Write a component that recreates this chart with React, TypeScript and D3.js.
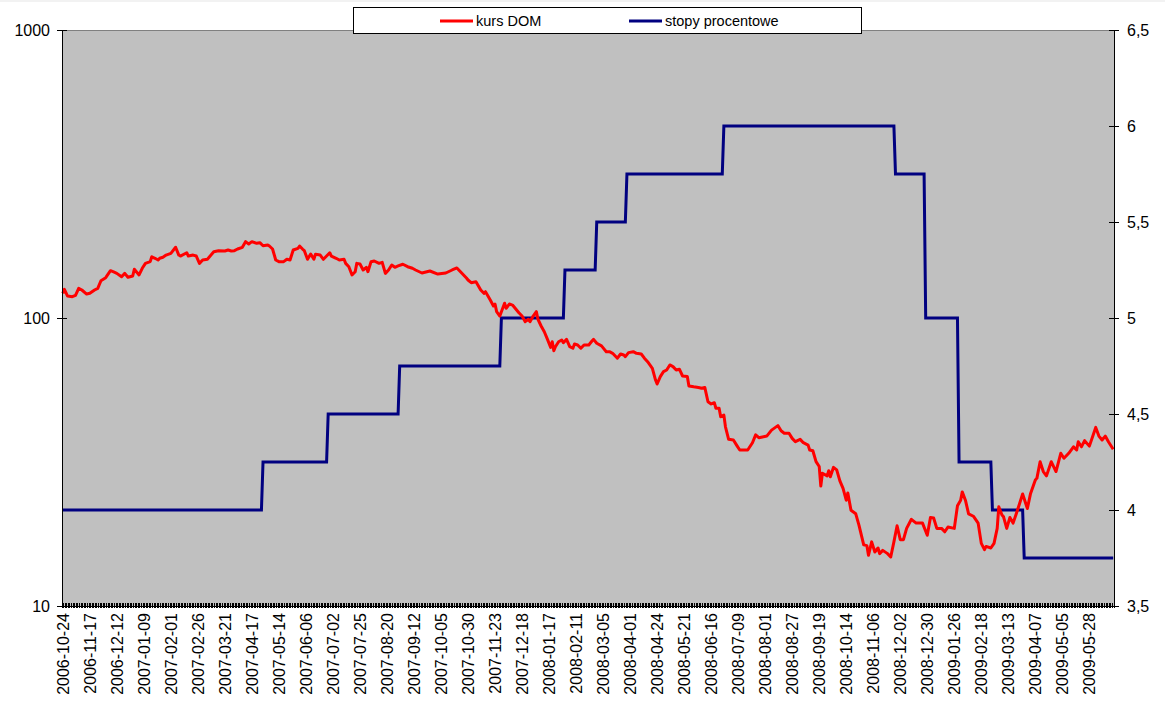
import React from "react";
import * as d3 from "d3";

// ---- data ----
const categoryCount = 662; // trading days 2006-10-24 .. ~2009-06-19
const tickEvery = 17;
const tickLabels = [
  "2006-10-24", "2006-11-17", "2006-12-12", "2007-01-09", "2007-02-01", "2007-02-26",
  "2007-03-21", "2007-04-17", "2007-05-14", "2007-06-06", "2007-07-02", "2007-07-25",
  "2007-08-20", "2007-09-12", "2007-10-05", "2007-10-30", "2007-11-23", "2007-12-18",
  "2008-01-17", "2008-02-11", "2008-03-05", "2008-04-01", "2008-04-24", "2008-05-21",
  "2008-06-16", "2008-07-09", "2008-08-01", "2008-08-27", "2008-09-19", "2008-10-14",
  "2008-11-06", "2008-12-02", "2008-12-30", "2009-01-26", "2009-02-18", "2009-03-13",
  "2009-04-07", "2009-05-05", "2009-05-28",
];

// kurs DOM: trading-day index and value
const kursIdx = [
  0, 1, 3, 6, 8, 10, 12, 15, 17, 20, 22, 24, 27, 30, 32, 34, 37, 39, 41, 44, 45, 48, 50, 52, 55, 56, 58, 60, 61, 63,
  65, 68, 71, 73, 74, 78, 79, 82, 84, 86, 88, 91, 95, 98, 102, 104, 106, 108, 110, 113, 115, 117, 119, 122, 124, 126,
  129, 130, 132, 134, 136, 139, 141, 143, 145, 148, 149, 151, 152, 154, 156, 158, 159, 162, 164, 166, 168, 169, 172,
  174, 177, 178, 180, 182, 184, 185, 187, 189, 191, 192, 194, 196, 199, 201, 203, 205, 207, 209, 211, 214, 217, 220,
  222, 226, 231, 236, 241, 245, 248, 251, 254, 255, 257, 260, 263, 265, 266, 269, 271, 272, 273, 275, 278, 279, 281,
  283, 287, 289, 291, 293, 294, 296, 298, 299, 301, 303, 305, 307, 308, 309, 310, 312, 314, 315, 317, 319, 321, 322,
  324, 326, 328, 331, 333, 334, 336, 339, 342, 344, 346, 349, 351, 353, 354, 356, 359, 361, 364, 366, 368, 371, 373,
  374, 376, 378, 380, 382, 384, 386, 388, 390, 393, 394, 397, 400, 402, 404, 406, 408, 410, 411, 413, 414, 416, 417,
  419, 422, 424, 426, 428, 431, 434, 436, 438, 441, 443, 446, 450, 452, 454, 457, 459, 461, 464, 466, 469, 470, 472,
  474, 476, 477, 478, 481, 482, 483, 485, 487, 489, 491, 493, 494, 496, 499, 501, 504, 506, 507, 509, 511, 513, 514,
  516, 519, 521, 523, 525, 527, 529, 531, 534, 537, 541, 544, 546, 548, 550, 553, 555, 557, 561, 563, 565, 566, 568,
  570, 573, 576, 578, 580, 581, 584, 586, 588, 589, 591, 592, 594, 596, 598, 600, 602, 604, 607, 609, 612, 613, 615,
  617, 619, 622, 625, 628, 630, 633, 636, 638, 639, 641, 643, 646, 650, 652, 654, 656, 658, 661,
];
const kursVal = [
  121.8, 125.8, 119.2, 118.6, 119.9, 126.8, 125.1, 121.1, 121.8, 125.1, 126.8, 134.7, 138.0, 146.0, 144.5, 142.9, 139.1,
  142.9, 138.5, 139.9, 147.6, 141.1, 148.8, 154.8, 156.9, 163.2, 161.2, 159.0, 161.2, 162.5,
  165.4, 167.7, 176.0, 165.4, 164.1, 168.5, 164.1, 165.4, 164.1, 154.8, 159.0, 159.9, 169.9, 171.3, 170.9, 172.2, 170.9,
  171.3, 173.6, 176.0, 184.1, 180.7, 184.1, 181.7, 182.6, 178.2,
  179.3, 177.8, 173.6, 159.0, 156.9, 156.9, 159.9, 159.0, 172.2, 174.6, 177.8, 173.2, 171.3, 159.9, 166.8, 159.9, 166.4,
  165.4, 159.9, 164.1, 168.5, 164.1, 161.2,
  159.0, 159.9, 154.8, 150.7, 141.1, 144.8, 154.8, 154.0, 146.8, 150.0, 144.8, 156.9, 157.7, 154.8, 156.1, 142.9, 146.8,
  152.8, 150.0, 151.6, 153.7, 150.7, 148.8,
  146.8, 143.3, 145.6, 142.1, 143.3, 146.8, 149.2, 143.3, 137.7, 135.5, 132.6, 133.7, 125.1, 121.8, 123.4, 115.5, 110.1,
  111.8, 105.2, 101.6, 112.5, 108.1, 111.8,
  110.9, 104.3, 101.6, 97.1, 99.0, 97.1, 101.6, 105.2, 99.0, 93.8, 89.6, 84.3, 79.1, 82.7, 77.0, 79.5, 82.7, 83.9, 82.1,
  84.3, 79.5, 78.5, 81.2,
  80.6, 78.5, 80.6, 80.6, 83.2, 84.3, 81.7, 80.0, 76.4, 76.4, 75.4, 72.5, 75.0, 74.4, 73.4, 75.8, 76.4, 75.4, 75.0, 72.5,
  70.5, 66.9, 60.9,
  59.0, 62.6, 65.1, 66.0, 68.7, 67.8, 66.0, 66.4, 62.9, 62.6, 58.1, 57.7, 57.4, 57.0, 57.4, 51.2, 50.3, 50.8, 48.6, 48.6,
  45.4, 46.0, 41.9,
  37.9, 37.7, 36.2, 34.8, 34.8, 34.8, 36.9, 39.3, 38.4, 38.7, 38.9, 40.8, 42.3, 40.6, 39.8, 39.8, 38.2, 37.2, 37.9, 36.9,
  36.2, 34.8, 34.6,
  31.7, 30.5, 26.1, 28.9, 28.3, 29.5, 28.1, 30.3, 29.7, 27.2, 25.6, 23.3, 24.7, 21.5, 20.9, 19.1, 16.3, 16.2, 15.0, 16.7,
  15.4, 15.9, 15.2,
  15.6, 15.2, 14.8, 16.7, 19.0, 17.0, 17.0, 18.6, 20.0, 19.4, 19.4, 17.6, 20.3, 20.2, 18.6, 18.6, 18.1, 18.8, 18.6, 22.3,
  23.3, 24.9, 23.3,
  20.9, 20.5, 19.4, 16.5, 15.7, 16.1, 15.9, 16.5, 18.6, 22.1, 20.7, 20.4, 18.6, 20.3, 19.4, 20.9, 22.6, 24.5, 21.8, 24.6,
  27.4, 27.8, 31.7,
  29.3, 28.3, 31.7, 29.3, 33.9, 32.6, 33.9, 35.7, 34.8, 37.2, 35.7, 37.5, 35.9, 41.7, 38.9, 37.7, 38.9, 37.2, 35.0,
];

// stopy procentowe: first trading-day index of each level, and the level
const rateStartIdx = [0, 126, 167, 212, 276, 316, 336, 355, 416, 524, 543, 564, 585, 605];
const rateVal = [4.0, 4.25, 4.5, 4.75, 5.0, 5.25, 5.5, 5.75, 6.0, 5.75, 5.0, 4.25, 4.0, 3.75];

const leftTicks = [10, 100, 1000];
const rightTicks = [3.5, 4, 4.5, 5, 5.5, 6, 6.5];

const seriesNames = ["kurs DOM", "stopy procentowe"];
const seriesColors = ["#FF0000", "#000080"];

export default function App() {
  const W = 1165, H = 706;
  const L = 62, R = 1114, T = 30, B = 606;
  const font = "Arial, 'Liberation Sans', sans-serif";

  const x = d3.scaleBand<number>().domain(d3.range(categoryCount)).range([L, R]).padding(0);
  const bw = x.bandwidth();
  const cx = (i: number) => (x(i) as number) + bw / 2;
  const yL = d3.scaleLog().domain([10, 1000]).range([B, T]);
  const yR = d3.scaleLinear().domain([3.5, 6.5]).range([B, T]);

  const kurs = kursIdx.map((i, k) => [i, kursVal[k]] as [number, number]);
  const rates = d3.range(categoryCount).map((i) => {
    let v = rateVal[0];
    rateStartIdx.forEach((s, k) => { if (s <= i) v = rateVal[k]; });
    return [i, v] as [number, number];
  });

  const kursPath = d3.line<[number, number]>().x((d) => cx(d[0])).y((d) => yL(d[1]))(kurs) || "";
  const ratePath = d3.line<[number, number]>().x((d) => cx(d[0])).y((d) => yR(d[1]))(rates) || "";

  let catTicks = "";
  for (let i = 0; i <= categoryCount; i++) {
    const xx = L + i * bw;
    catTicks += `M${xx},603V608`;
  }

  const fmtR = (v: number) => String(v).replace(".", ",");

  return (
    <svg width={W} height={H} style={{ position: "absolute", left: 0, top: 0, background: "#fff" }}>
      <rect x={0} y={0} width={W} height={2} fill="#f2f2f2" />
      <rect x={L} y={T} width={R - L} height={B - T} fill="#C0C0C0" />
      <line x1={L} x2={R} y1={T + 0.5} y2={T + 0.5} stroke="#808080" strokeWidth={1} />
      <path d={ratePath} fill="none" stroke={seriesColors[1]} strokeWidth={3} strokeLinejoin="miter" />
      <path d={kursPath} fill="none" stroke={seriesColors[0]} strokeWidth={3} strokeLinejoin="round" />

      {/* left axis */}
      <line x1={L + 0.5} x2={L + 0.5} y1={T} y2={B} stroke="#000" strokeWidth={1} />
      {leftTicks.map((t) => (
        <g key={"l" + t}>
          <line x1={57} x2={67} y1={Math.round(yL(t)) + 0.5} y2={Math.round(yL(t)) + 0.5} stroke="#000" />
          <text x={50} y={yL(t)} dy="0.36em" textAnchor="end" fontFamily={font} fontSize={16}>{t}</text>
        </g>
      ))}

      {/* right axis */}
      <line x1={R + 0.5} x2={R + 0.5} y1={T} y2={B} stroke="#000" strokeWidth={1} />
      {rightTicks.map((t) => (
        <g key={"r" + t}>
          <line x1={1109} x2={1119} y1={Math.round(yR(t)) + 0.5} y2={Math.round(yR(t)) + 0.5} stroke="#000" />
          <text x={1127} y={yR(t)} dy="0.36em" textAnchor="start" fontFamily={font} fontSize={16}>{fmtR(t)}</text>
        </g>
      ))}

      {/* bottom axis */}
      <line x1={L} x2={R + 1} y1={B + 0.5} y2={B + 0.5} stroke="#000" strokeWidth={1} />
      <path d={catTicks} stroke="#000" strokeWidth={1} fill="none" shapeRendering="crispEdges" />
      {tickLabels.map((lab, k) => {
        const xx = cx(k * tickEvery);
        return (
          <text key={lab} transform={`translate(${xx},613) rotate(-90)`} dy="0.36em" textAnchor="end"
            fontFamily={font} fontSize={16}>{lab}</text>
        );
      })}

      {/* legend */}
      <rect x={353.5} y={7.5} width={508} height={26} fill="#fff" stroke="#000" strokeWidth={1} />
      <line x1={440} x2={473} y1={21} y2={21} stroke={seriesColors[0]} strokeWidth={3} />
      <text x={476} y={21} dy="0.35em" fontFamily={font} fontSize={14.5}>{seriesNames[0]}</text>
      <line x1={629} x2={662} y1={21} y2={21} stroke={seriesColors[1]} strokeWidth={3} />
      <text x={665} y={21} dy="0.35em" fontFamily={font} fontSize={14.5}>{seriesNames[1]}</text>
    </svg>
  );
}
